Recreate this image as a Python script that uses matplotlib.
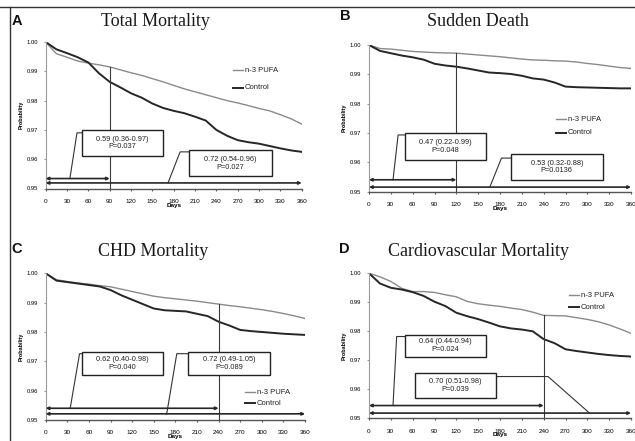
import matplotlib
matplotlib.use("Agg")
import matplotlib.pyplot as plt
from matplotlib.lines import Line2D
from matplotlib.patches import Rectangle

plt.rcParams['font.family'] = ['Liberation Sans', 'DejaVu Sans']

W, H = 635, 441

# ---------------- data ----------------
days = [0, 15, 30, 45, 60, 75, 90, 105, 120, 135, 150, 165, 180,
        195, 210, 225, 240, 255, 270, 285, 300, 315, 330, 345, 360]
day_ticks = list(range(0, 361, 30))
prob_ticks = [0.95, 0.96, 0.97, 0.98, 0.99, 1.00]

a_pufa = [1.000, 0.9960, 0.9948, 0.9935, 0.9928, 0.9922, 0.9915, 0.9905, 0.9895,
          0.9886, 0.9875, 0.9864, 0.9852, 0.9840, 0.9830, 0.9820, 0.9810, 0.9800,
          0.9792, 0.9783, 0.9773, 0.9765, 0.9752, 0.9738, 0.9720]
a_control = [1.000, 0.9975, 0.9962, 0.9948, 0.9930, 0.9893, 0.9864, 0.9845, 0.9825,
             0.9810, 0.9790, 0.9775, 0.9765, 0.9757, 0.9745, 0.9732, 0.9700, 0.9680,
             0.9665, 0.9658, 0.9653, 0.9645, 0.9637, 0.9630, 0.9625]
a_cut = 90
a_hr = ["0.59 (0.36-0.97)\nP=0.037", "0.72 (0.54-0.96)\nP=0.027"]

b_pufa = [1.000, 0.9988, 0.9986, 0.9982, 0.9978, 0.9976, 0.9974, 0.9973, 0.9972,
          0.9969, 0.9966, 0.9963, 0.9960, 0.9956, 0.9952, 0.9949, 0.9948, 0.9946,
          0.9945, 0.9942, 0.9937, 0.9933, 0.9928, 0.9923, 0.9920]
b_control = [1.000, 0.9980, 0.9972, 0.9964, 0.9958, 0.9950, 0.9936, 0.9930, 0.9926,
             0.9920, 0.9913, 0.9906, 0.9904, 0.9901, 0.9895, 0.9886, 0.9882, 0.9872,
             0.9858, 0.9856, 0.9855, 0.9854, 0.9853, 0.9852, 0.9852]
b_cut = 120
b_hr = ["0.47 (0.22-0.99)\nP=0.048", "0.53 (0.32-0.88)\nP=0.0136"]

c_pufa = [1.000, 0.9978, 0.9972, 0.9967, 0.9963, 0.9958, 0.9954, 0.9946, 0.9938,
          0.9930, 0.9922, 0.9917, 0.9913, 0.9909, 0.9905, 0.9900, 0.9895, 0.9890,
          0.9886, 0.9881, 0.9876, 0.9870, 0.9863, 0.9855, 0.9846]
c_control = [1.000, 0.9975, 0.9970, 0.9965, 0.9960, 0.9955, 0.9943, 0.9925, 0.9910,
             0.9895, 0.9880, 0.9874, 0.9872, 0.9870, 0.9862, 0.9854, 0.9835, 0.9822,
             0.9807, 0.9803, 0.9800, 0.9797, 0.9794, 0.9792, 0.9790]
c_cut = 240
c_hr = ["0.62 (0.40-0.98)\nP=0.040", "0.72 (0.49-1.05)\nP=0.089"]

d_pufa = [1.000, 0.9988, 0.9972, 0.9948, 0.9937, 0.9937, 0.9934, 0.9926, 0.9919,
          0.9903, 0.9895, 0.9890, 0.9886, 0.9880, 0.9875, 0.9866, 0.9855, 0.9854,
          0.9853, 0.9847, 0.9841, 0.9833, 0.9822, 0.9808, 0.9793]
d_control = [1.000, 0.9965, 0.9950, 0.9944, 0.9935, 0.9922, 0.9902, 0.9887, 0.9864,
             0.9852, 0.9842, 0.9830, 0.9817, 0.9810, 0.9806, 0.9800, 0.9773, 0.9759,
             0.9738, 0.9732, 0.9727, 0.9722, 0.9718, 0.9715, 0.9713]
d_cut = 240
d_hr = ["0.64 (0.44-0.94)\nP=0.024", "0.70 (0.51-0.98)\nP=0.039"]

series_names = ["n-3 PUFA", "Control"]

# ---------------- layout ----------------
panels = [
    dict(letter="A", title="Total Mortality", pufa=a_pufa, control=a_control, cut=a_cut, hr=a_hr,
         rect=(45.7, 42, 301.7, 188.5), title_xy=(155, 21), letter_xy=(17, 21),
         box1=(51, 165, 0.9610, 0.9700), box2=(201, 318, 0.9542, 0.9631),
         lead1=[(51, 0.9690), (44, 0.9690), (34, 0.9534)],
         lead2=[(201, 0.9625), (189, 0.9625), (172, 0.9519)],
         arrows=(0.9534, 0.9519), legend=(264, 0.9903, 0.9844)),
    dict(letter="B", title="Sudden Death", pufa=b_pufa, control=b_control, cut=b_cut, hr=b_hr,
         rect=(369, 45, 631, 191.5), title_xy=(478, 22), letter_xy=(345, 16),
         box1=(49, 161, 0.9608, 0.9699), box2=(195, 321, 0.9540, 0.9628),
         lead1=[(49, 0.9693), (40, 0.9693), (33, 0.9540)],
         lead2=[(195, 0.9614), (182, 0.9614), (166, 0.9515)],
         arrows=(0.9540, 0.9515), legend=(257, 0.9747, 0.9700)),
    dict(letter="C", title="CHD Mortality", pufa=c_pufa, control=c_control, cut=c_cut, hr=c_hr,
         rect=(45.7, 273.3, 305, 420), title_xy=(153, 251), letter_xy=(17, 249),
         box1=(50, 163, 0.9652, 0.9732), box2=(198, 312, 0.9652, 0.9732),
         lead1=[(50, 0.9726), (47, 0.9726), (34, 0.9540)],
         lead2=[(198, 0.9726), (182, 0.9726), (168, 0.9521)],
         arrows=(0.9540, 0.9521), legend=(277, 0.9595, 0.9557)),
    dict(letter="D", title="Cardiovascular Mortality", pufa=d_pufa, control=d_control, cut=d_cut, hr=d_hr,
         rect=(369, 273.3, 631, 418.3), title_xy=(478, 251), letter_xy=(344, 249),
         box1=(49, 161, 0.9713, 0.9787), box2=(63, 175, 0.9569, 0.9655),
         lead1=[(49, 0.9782), (38, 0.9782), (33, 0.9544)],
         lead2=[(175, 0.9644), (246, 0.9644), (303, 0.9518)],
         arrows=(0.9544, 0.9518), legend=(275, 0.9925, 0.9883)),
]

light = "#8a8a8a"
dark = "#262626"

fig = plt.figure(figsize=(W / 100, H / 100), dpi=100)

for p in panels:
    l, t, r, b = p["rect"]
    ax = fig.add_axes([l / W, 1 - b / H, (r - l) / W, (b - t) / H])
    ax.set_xlim(0, 360)
    ax.set_ylim(0.95, 1.0)
    ax.patch.set_alpha(0)

    ax.plot(days, p["pufa"], color=light, lw=1.0)
    ax.plot(days, p["control"], color=dark, lw=1.4)

    # vertical cut line up to the upper curve
    top = p["pufa"][days.index(p["cut"])]
    ax.plot([p["cut"], p["cut"]], [0.95, top], color="#3a3a3a", lw=0.8)

    # double-headed interval arrows
    y1, y2 = p["arrows"]
    for x_end, y in ((p["cut"], y1), (360, y2)):
        ax.annotate("", xy=(0, y), xytext=(x_end, y),
                    arrowprops=dict(arrowstyle="<|-|>", lw=1.2, color=dark,
                                    shrinkA=0, shrinkB=0, mutation_scale=4))

    # leader lines and HR boxes
    for lead in (p["lead1"], p["lead2"]):
        xs, ys = zip(*lead)
        ax.plot(xs, ys, color="#333333", lw=0.8, clip_on=False)
    for (x0, x1, yb, yt), txt in zip((p["box1"], p["box2"]), p["hr"]):
        ax.add_patch(Rectangle((x0, yb), x1 - x0, yt - yb, facecolor="white",
                               edgecolor="#222222", lw=1.0, zorder=4, clip_on=False))
        ax.text((x0 + x1) / 2, (yb + yt) / 2, txt, ha="center", va="center",
                fontsize=5.3, linespacing=1.15, color="#222222", zorder=5)

    # legend drawn by hand
    lx, ly1, ly2 = p["legend"]
    for y, name, col, lw in ((ly1, series_names[0], light, 1.0), (ly2, series_names[1], dark, 1.4)):
        ax.plot([lx, lx + 13], [y, y], color=col, lw=lw)
        ax.text(lx + 16, y, name, fontsize=5.5, va="center", ha="left", color="#222222")

    # axes styling
    for s in ("top", "right"):
        ax.spines[s].set_visible(False)
    ax.spines["left"].set_color("#9a9a9a")
    ax.spines["bottom"].set_color("#555555")
    ax.spines["left"].set_linewidth(0.8)
    ax.spines["bottom"].set_linewidth(1.0)
    ax.set_xticks(day_ticks)
    ax.set_yticks(prob_ticks)
    ax.set_yticklabels([f"{v:.2f}" for v in prob_ticks])
    ax.tick_params(axis="x", labelsize=4.6, length=1.5, pad=6, color="#555555")
    ax.tick_params(axis="y", labelsize=4.2, length=1.5, pad=4, color="#9a9a9a")
    ax.set_xlabel("Days", fontsize=4.6, fontweight="bold", labelpad=-1)
    ax.set_ylabel("Probability", fontsize=4.0, fontweight="bold")
    ax.yaxis.set_label_coords(-0.085, 0.5)

    fig.text(p["title_xy"][0] / W, 1 - p["title_xy"][1] / H, p["title"],
             family=["Liberation Serif", "DejaVu Serif"], fontsize=13,
             ha="center", va="center", color="#1a1a1a")
    fig.text(p["letter_xy"][0] / W, 1 - p["letter_xy"][1] / H, p["letter"],
             fontsize=10.5, fontweight="bold", ha="center", va="center", color="#111111")

# scan frame lines
fig.add_artist(Line2D([0, 1], [1 - 7 / H, 1 - 7 / H], transform=fig.transFigure,
                      color="#333333", lw=1.0))
fig.add_artist(Line2D([10 / W, 10 / W], [0, 1 - 7 / H], transform=fig.transFigure,
                      color="#333333", lw=1.0))

fig.savefig("out.png", dpi=100)
